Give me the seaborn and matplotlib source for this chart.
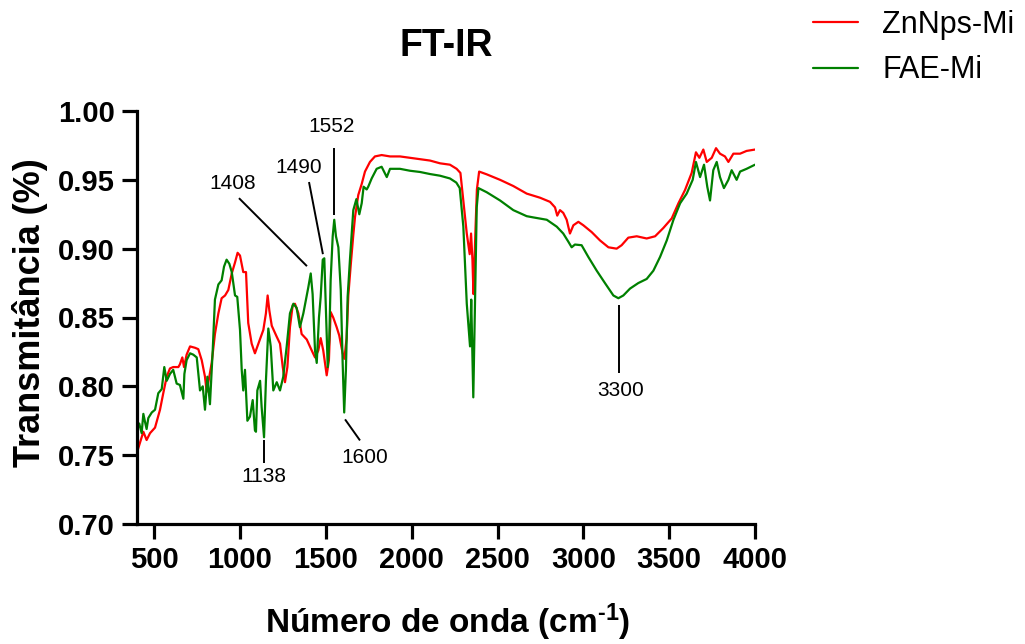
import matplotlib
matplotlib.use("Agg")
import matplotlib.pyplot as plt
import seaborn as sns
import pandas as pd

# ---------------- data ----------------
zn_wn = [400, 417, 437, 456, 476, 505, 534, 553, 573, 592, 611, 641, 650, 664, 674, 689, 709, 738, 757,
         777, 796, 806, 821, 835, 854, 874, 893, 913, 932, 952, 971, 986, 1000, 1019, 1035, 1048, 1068,
         1087, 1107, 1136, 1151, 1161, 1171, 1185, 1214, 1233, 1249, 1262, 1276, 1291, 1307, 1320, 1340,
         1359, 1389, 1418, 1437, 1456, 1470, 1485, 1505, 1518, 1528, 1543, 1563, 1578, 1598, 1608, 1621,
         1631, 1645, 1660, 1670, 1689, 1709, 1728, 1757, 1786, 1825, 1874, 1932, 1990, 2049, 2107, 2165,
         2223, 2262, 2284, 2301, 2321, 2338, 2346, 2354, 2360, 2372, 2380, 2393, 2437, 2515, 2592, 2670,
         2748, 2806, 2835, 2848, 2864, 2883, 2903, 2922, 2942, 2971, 3000, 3049, 3097, 3146, 3194, 3223,
         3262, 3311, 3369, 3418, 3466, 3515, 3554, 3592, 3631, 3656, 3676, 3699, 3719, 3748, 3773, 3796,
         3825, 3845, 3874, 3913, 3951, 4000]
zn_t = [0.752, 0.759, 0.767, 0.761, 0.766, 0.770, 0.783, 0.795, 0.807, 0.813, 0.814, 0.814, 0.816, 0.821,
        0.814, 0.823, 0.829, 0.828, 0.827, 0.819, 0.807, 0.796, 0.807, 0.817, 0.838, 0.853, 0.864, 0.866,
        0.870, 0.882, 0.890, 0.897, 0.895, 0.883, 0.883, 0.846, 0.831, 0.824, 0.831, 0.841, 0.853, 0.866,
        0.855, 0.844, 0.836, 0.831, 0.814, 0.803, 0.814, 0.843, 0.859, 0.860, 0.853, 0.838, 0.834, 0.826,
        0.821, 0.826, 0.835, 0.826, 0.808, 0.819, 0.854, 0.850, 0.843, 0.837, 0.824, 0.820, 0.835, 0.866,
        0.888, 0.910, 0.923, 0.939, 0.947, 0.956, 0.963, 0.967, 0.968, 0.967, 0.967, 0.966, 0.965, 0.964,
        0.962, 0.961, 0.958, 0.955, 0.935, 0.911, 0.896, 0.911, 0.892, 0.867, 0.915, 0.943, 0.956, 0.954,
        0.950, 0.9455, 0.940, 0.937, 0.934, 0.930, 0.924, 0.928, 0.926, 0.921, 0.911, 0.917, 0.9195, 0.917,
        0.912, 0.906, 0.901, 0.900, 0.9025, 0.908, 0.909, 0.9074, 0.909, 0.915, 0.922, 0.933, 0.9425, 0.955,
        0.970, 0.966, 0.972, 0.963, 0.966, 0.973, 0.969, 0.967, 0.963, 0.969, 0.969, 0.971, 0.972]

fae_wn = [400, 413, 427, 437, 447, 456, 466, 486, 505, 524, 544, 559, 573, 592, 611, 631, 650, 670, 676,
          689, 709, 728, 748, 767, 783, 796, 810, 825, 841, 854, 874, 893, 907, 922, 938, 952, 971, 984,
          1000, 1010, 1019, 1029, 1043, 1058, 1074, 1087, 1093, 1101, 1117, 1126, 1140, 1151, 1165, 1179,
          1194, 1214, 1233, 1252, 1272, 1291, 1311, 1330, 1349, 1369, 1389, 1398, 1412, 1423, 1437, 1447,
          1460, 1470, 1482, 1491, 1501, 1511, 1520, 1528, 1540, 1549, 1559, 1573, 1587, 1598, 1607, 1617,
          1627, 1641, 1660, 1678, 1695, 1709, 1720, 1738, 1747, 1767, 1796, 1825, 1855, 1874, 1932, 1990,
          2049, 2107, 2165, 2223, 2260, 2280, 2301, 2321, 2340, 2347, 2353, 2359, 2370, 2379, 2389, 2437,
          2515, 2592, 2670, 2709, 2787, 2845, 2883, 2913, 2932, 2951, 2990, 3029, 3078, 3126, 3175, 3204,
          3233, 3272, 3320, 3369, 3408, 3447, 3486, 3525, 3564, 3602, 3637, 3656, 3680, 3703, 3722, 3738,
          3757, 3777, 3796, 3819, 3845, 3864, 3893, 3913, 3951, 4000]
fae_t = [0.768, 0.773, 0.766, 0.780, 0.774, 0.769, 0.777, 0.781, 0.783, 0.795, 0.798, 0.814, 0.804, 0.809,
         0.812, 0.802, 0.801, 0.791, 0.809, 0.819, 0.824, 0.823, 0.821, 0.797, 0.800, 0.783, 0.807, 0.787,
         0.826, 0.863, 0.874, 0.877, 0.887, 0.892, 0.889, 0.883, 0.866, 0.865, 0.841, 0.812, 0.797, 0.812,
         0.775, 0.778, 0.790, 0.768, 0.767, 0.797, 0.804, 0.785, 0.763, 0.804, 0.842, 0.829, 0.797, 0.803,
         0.797, 0.807, 0.829, 0.853, 0.860, 0.857, 0.843, 0.853, 0.866, 0.872, 0.882, 0.867, 0.826, 0.817,
         0.850, 0.865, 0.892, 0.893, 0.853, 0.814, 0.834, 0.877, 0.909, 0.921, 0.909, 0.901, 0.870, 0.817,
         0.781, 0.812, 0.865, 0.893, 0.928, 0.936, 0.925, 0.933, 0.945, 0.943, 0.945, 0.951, 0.958, 0.9595,
         0.952, 0.958, 0.958, 0.9566, 0.9557, 0.9542, 0.953, 0.951, 0.948, 0.944, 0.916, 0.860, 0.829, 0.863,
         0.829, 0.792, 0.870, 0.930, 0.944, 0.941, 0.935, 0.928, 0.9236, 0.9227, 0.921, 0.916, 0.911, 0.905,
         0.901, 0.903, 0.9025, 0.894, 0.884, 0.875, 0.866, 0.864, 0.866, 0.871, 0.875, 0.878, 0.884, 0.894,
         0.906, 0.921, 0.933, 0.940, 0.950, 0.963, 0.952, 0.961, 0.945, 0.935, 0.957, 0.963, 0.952, 0.944,
         0.950, 0.957, 0.950, 0.956, 0.958, 0.961]

series_names = ["ZnNps-Mi", "FAE-Mi"]
series_colors = ["#FF0000", "#008000"]

# annotations: label, label position, line start, line end
ann_labels = ["1138", "1408", "1490", "1552", "1600", "3300"]
ann_text_xy = [(1140, 0.7345), (959, 0.9476), (1344, 0.9593), (1536, 0.989), (1728, 0.7484), (3219, 0.7971)]
ann_line_start = [(1140, 0.7607), (994, 0.9367), (1402, 0.9484), (1548, 0.973), (1612, 0.776), (3208, 0.8589)]
ann_line_end = [(1140, 0.7440), (1390, 0.8873), (1483, 0.896), (1548, 0.9244), (1699, 0.7607), (3208, 0.8095)]

x_ticks = [500, 1000, 1500, 2000, 2500, 3000, 3500, 4000]
y_ticks = [0.70, 0.75, 0.80, 0.85, 0.90, 0.95, 1.00]

# ---------------- figure ----------------
sns.set_style("ticks")
plt.rcParams["font.family"] = ["Liberation Sans", "DejaVu Sans"]
plt.rcParams["mathtext.default"] = "regular"
plt.rcParams["mathtext.fontset"] = "custom"
plt.rcParams["mathtext.rm"] = "Liberation Sans:bold"
plt.rcParams["mathtext.bf"] = "Liberation Sans:bold"
for key in ["text.color", "axes.labelcolor", "xtick.color", "ytick.color", "axes.edgecolor"]:
    plt.rcParams[key] = "black"

fig = plt.figure(figsize=(10.25, 6.44), dpi=100)
ax = fig.add_axes([137 / 1025, 1 - 524 / 644, (755 - 137) / 1025, (524 - 111) / 644])

df = pd.concat([
    pd.DataFrame({"wn": zn_wn, "t": zn_t, "s": series_names[0]}),
    pd.DataFrame({"wn": fae_wn, "t": fae_t, "s": series_names[1]}),
])
sns.lineplot(data=df, x="wn", y="t", hue="s", palette=series_colors, hue_order=series_names,
             estimator=None, sort=False, lw=1.6, ax=ax)

for lab, txy, ls, le in zip(ann_labels, ann_text_xy, ann_line_start, ann_line_end):
    ax.plot([ls[0], le[0]], [ls[1], le[1]], color="black", lw=1.4, solid_capstyle="butt")
    ax.text(txy[0], txy[1], lab, fontsize=15, ha="center", va="center", color="black")

ax.set_xlim(400, 4000)
ax.set_ylim(0.70, 1.00)
ax.set_xticks(x_ticks)
ax.set_yticks(y_ticks)
ax.set_yticklabels([f"{v:.2f}" for v in y_ticks])
ax.set_xlabel("")
ax.set_ylabel("")
sns.despine(ax=ax)
for sp in ["left", "bottom"]:
    ax.spines[sp].set_linewidth(2.3)
    ax.spines[sp].set_color("black")
ax.tick_params(axis="both", which="major", length=11, width=2.3, color="black",
               labelcolor="black", labelsize=21, pad=5, direction="out")
for lbl in ax.get_xticklabels() + ax.get_yticklabels():
    lbl.set_fontweight("bold")

leg = ax.legend(loc="upper left", bbox_to_anchor=(813 / 1025, 1 - 10 / 644),
                bbox_transform=fig.transFigure, frameon=False, fontsize=22,
                handlelength=1.47, handletextpad=0.8, labelspacing=0.5,
                borderpad=0, borderaxespad=0)
for line in leg.get_lines():
    line.set_linewidth(1.6)
for t in leg.get_texts():
    t.set_color("black")

fig.text(446 / 1025, 1 - 46 / 644, "FT-IR", fontsize=27, fontweight="bold", ha="center", va="center",
         color="black")
fig.text(30 / 1025, 1 - 313 / 644, "Transmitância (%)", fontsize=26, fontweight="bold",
         rotation=90, ha="center", va="center", color="black")
fig.text(448 / 1025, 1 - 622 / 644, r"Número de onda (cm$^{\text{-1}}$)", fontsize=24, fontweight="bold",
         ha="center", va="center", color="black")

fig.savefig("out.png", dpi=100)
